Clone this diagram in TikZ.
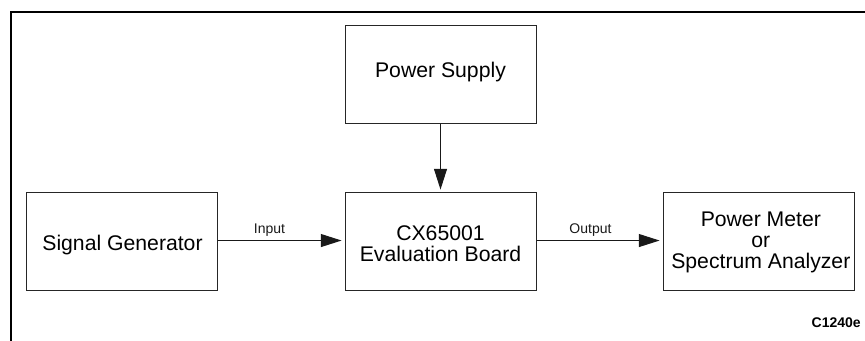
\documentclass[tikz,border=0pt]{standalone}
\usepackage{fontspec}
\setmainfont{Liberation Sans}
\usetikzlibrary{arrows.meta}
\newcommand{\boxtext}[3]{\hspace*{#1}\raisebox{#2}[0pt][0pt]{\begin{tabular}[b]{@{}c@{}}#3\end{tabular}}}
\tikzset{
  px/.style={x=0.75pt,y=-0.75pt},
  frameline/.style={line width=1.4pt,line cap=rect,black},
  blockbox/.style={draw=black!85,line width=0.75pt,inner sep=0pt,minimum width=143.25pt,minimum height=73.5pt,font=\fontsize{15.9pt}{15.6pt}\selectfont},
  flow/.style={draw=black!90,line width=0.8pt,shorten >=2.2pt,-{Triangle[length=15.5pt,width=9.7pt]}},
  smalllabel/.style={inner sep=0pt,anchor=base,font=\fontsize{10.5pt}{12pt}\selectfont,black!90},
  codelabel/.style={inner sep=0pt,anchor=base east,font=\fontsize{10.5pt}{12pt}\selectfont\bfseries}
}
\begin{document}
\begin{tikzpicture}[px]
\useasboundingbox (0,0) rectangle (865,341);
\draw[frameline] (11,341) -- (11,12) -- (865,12);
\node[blockbox] (power) at (440.5,75) {\boxtext{0pt}{-1.75pt}{Power Supply}};
\node[blockbox] (eval) at (440.5,242) {\boxtext{0pt}{-15pt}{CX65001\\Evaluation Board}};
\node[blockbox] (signal) at (121.5,242) {\boxtext{1.5pt}{-6.25pt}{Signal Generator}};
\node[blockbox] (meter) at (758.5,242) {\boxtext{3.5pt}{-20.25pt}{Power Meter\\or\\Spectrum Analyzer}};
\draw[flow] (power.south) -- (eval.north);
\draw[flow] ([yshift=1.1pt]signal.east) -- ([yshift=1.1pt]eval.west);
\draw[flow] ([yshift=1.1pt]eval.east) -- ([yshift=1.1pt]meter.west);
\node[smalllabel] (inlabel) at (269.5,233.5) {Input};
\node[smalllabel] (outlabel) at (590.5,233.5) {Output};
\node[codelabel] (code) at (861,328) {C1240e};
\end{tikzpicture}
\end{document}
